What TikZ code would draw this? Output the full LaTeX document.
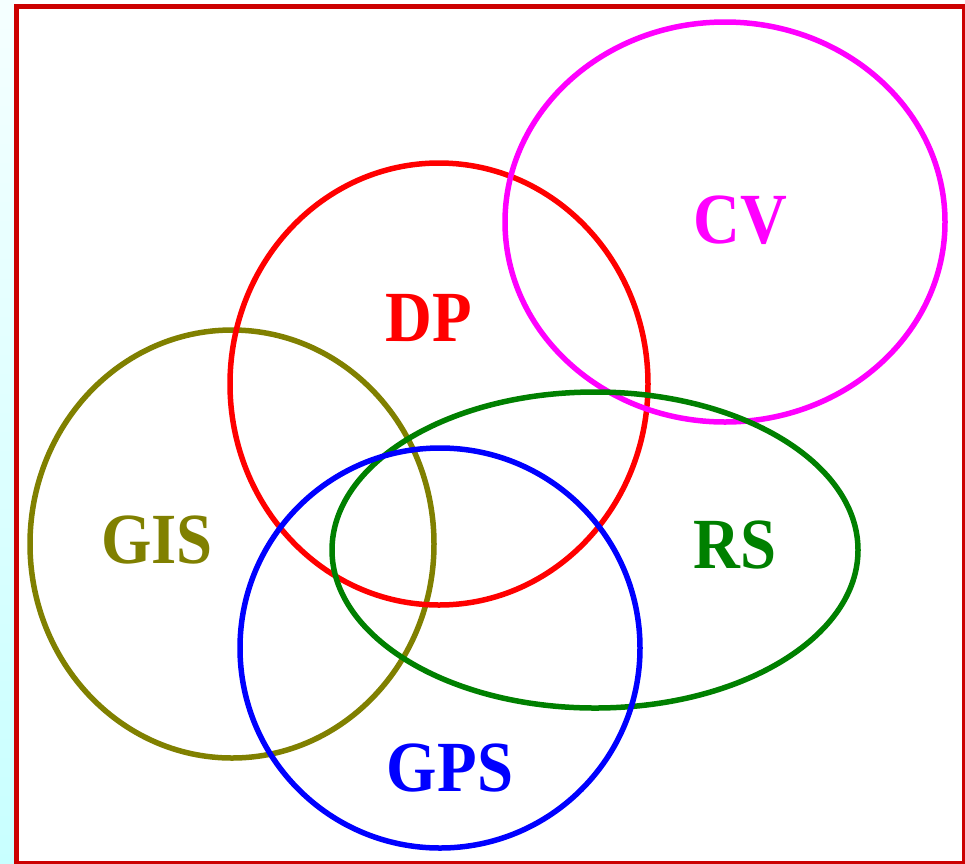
\documentclass[tikz,border=0pt]{standalone}
\usepackage{fontspec}
\setmainfont{Liberation Serif}
\definecolor{cvcol}{RGB}{255,0,255}
\definecolor{dpcol}{RGB}{255,0,0}
\definecolor{giscol}{RGB}{128,128,0}
\definecolor{rscol}{RGB}{0,128,0}
\definecolor{gpscol}{RGB}{0,0,255}
\definecolor{framecol}{RGB}{204,0,0}
\begin{document}
\begin{tikzpicture}[x=1pt,y=-1pt,
  ring/.style={line width=5.5pt},
  lbl/.style={font=\fontsize{72}{72}\selectfont\bfseries, inner sep=0pt, xscale=0.9}]
\useasboundingbox (0,0) rectangle (965,863);
\fill[white] (0,0) rectangle (965,863);
\shade[top color={rgb,255:red,245;green,255;blue,255}, bottom color={rgb,255:red,200;green,255;blue,255}] (0,0) rectangle (14,863);
\draw[line width=5pt, framecol] (16.5,6.5) rectangle (964,863);
% ellipses
\draw[ring, giscol] (232,544) ellipse [x radius=202, y radius=214];
\draw[ring, dpcol] (439,384) ellipse [x radius=209, y radius=221];
\draw[ring, cvcol] (725,222) ellipse [x radius=220, y radius=200];
\draw[ring, rscol] (595,550) ellipse [x radius=263, y radius=158];
\draw[ring, gpscol] (440,648) ellipse [x radius=200, y radius=200];
% labels
\node[lbl, cvcol] (cv) at (740,220) {CV};
\node[lbl, dpcol] (dp) at (429,318) {DP};
\node[lbl, giscol] (gis) at (157,540) {GIS};
\node[lbl, rscol] (rs) at (735,545) {RS};
\node[lbl, gpscol] (gps) at (450,768) {GPS};
\end{tikzpicture}
\end{document}
